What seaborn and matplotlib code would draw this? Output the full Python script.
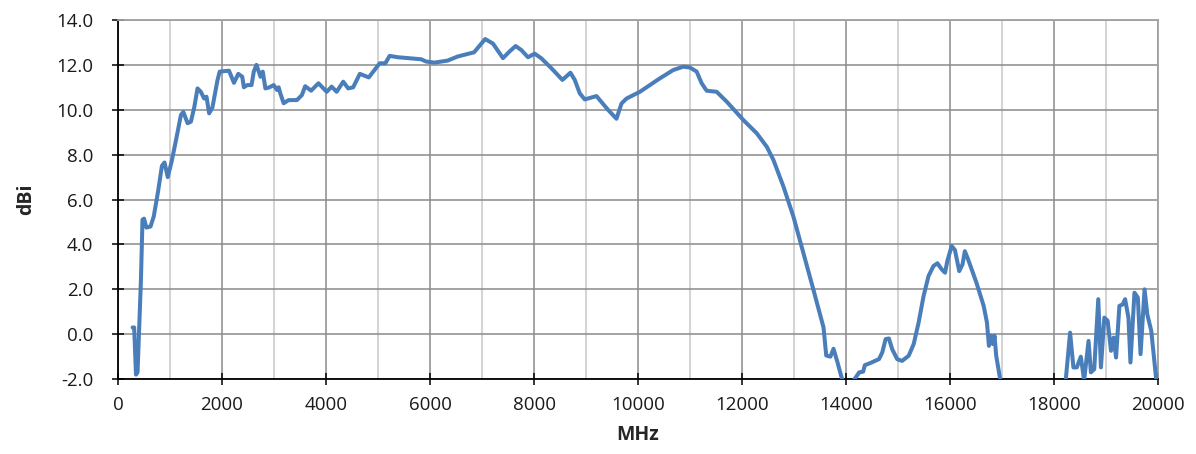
import matplotlib
matplotlib.use("Agg")
import matplotlib.pyplot as plt
from matplotlib.ticker import MultipleLocator, FormatStrFormatter
import seaborn as sns
import pandas as pd

# Measured antenna gain versus frequency
freq_mhz = [
    280, 310, 345, 375, 440, 470, 500, 545, 625, 687, 769, 844, 894, 956,
    1031, 1115, 1210, 1255, 1338, 1401, 1465, 1529, 1592, 1656, 1701, 1752,
    1815, 1911, 1955, 2134, 2229, 2312, 2389, 2420, 2484, 2567, 2611, 2662,
    2707, 2739, 2783, 2834, 2911, 2994, 3057, 3089, 3121, 3185, 3280, 3439,
    3535, 3599, 3713, 3854, 4013, 4108, 4204, 4331, 4427, 4522, 4650, 4822,
    5032, 5140, 5223, 5382, 5828, 5924, 6083, 6338, 6529, 6847, 7060, 7210,
    7403, 7531, 7647, 7756, 7884, 8013, 8141, 8334, 8546, 8700, 8784, 8880,
    8976, 9201, 9426, 9586, 9683, 9779, 10036, 10421, 10678, 10871, 10999,
    11128, 11224, 11320, 11513, 11706, 12027, 12284, 12477, 12605, 12798,
    12990, 13183, 13376, 13568, 13620, 13700, 13760, 13830, 13930, 14040,
    14150, 14254, 14330, 14362, 14463, 14635, 14698, 14762, 14825, 14889,
    14984, 15079, 15206, 15302, 15397, 15492, 15587, 15683, 15759, 15841,
    15905, 15949, 16032, 16095, 16178, 16241, 16286, 16349, 16508, 16648,
    16711, 16749, 16794, 16825, 16857, 16889, 16965, 17100, 18100, 18226,
    18310, 18374, 18439, 18516, 18580, 18665, 18710, 18774, 18852, 18903,
    18968, 19032, 19097, 19148, 19194, 19258, 19323, 19368, 19432, 19471,
    19548, 19613, 19665, 19742, 19794, 19871, 19968,
]
gain_dbi = [
    0.30, 0.30, -1.80, -1.70, 2.40, 5.10, 5.15, 4.75, 4.80, 5.25, 6.35, 7.50,
    7.65, 7.00, 7.70, 8.65, 9.77, 9.90, 9.40, 9.47, 10.10, 10.95, 10.80,
    10.50, 10.58, 9.84, 10.10, 11.30, 11.70, 11.74, 11.20, 11.60, 11.47,
    11.00, 11.10, 11.10, 11.70, 12.00, 11.70, 11.47, 11.70, 10.95, 11.00,
    11.10, 10.88, 11.00, 10.73, 10.29, 10.43, 10.43, 10.65, 11.05, 10.85,
    11.18, 10.80, 11.03, 10.80, 11.25, 10.95, 11.00, 11.60, 11.44, 12.07,
    12.07, 12.40, 12.34, 12.25, 12.15, 12.10, 12.19, 12.37, 12.56, 13.15,
    12.95, 12.30, 12.60, 12.84, 12.66, 12.34, 12.50, 12.29, 11.85, 11.33,
    11.65, 11.33, 10.73, 10.46, 10.61, 9.99, 9.60, 10.28, 10.50, 10.80,
    11.40, 11.77, 11.92, 11.88, 11.70, 11.18, 10.85, 10.80, 10.36, 9.54,
    8.95, 8.35, 7.76, 6.57, 5.23, 3.60, 1.96, 0.30, -0.95, -1.00, -0.65,
    -1.20, -2.05, -2.60, -2.05, -1.70, -1.67, -1.38, -1.29, -1.11, -0.81,
    -0.22, -0.19, -0.67, -1.11, -1.19, -0.96, -0.44, 0.52, 1.70, 2.59, 3.04,
    3.16, 2.89, 2.74, 3.26, 3.93, 3.75, 2.81, 3.11, 3.70, 3.33, 2.30, 1.26,
    0.52, -0.52, -0.07, -0.44, -0.07, -0.96, -2.00, -3.00, -3.00, -2.05,
    0.07, -1.48, -1.48, -1.00, -2.05, -0.30, -1.70, -1.56, 1.56, -1.48, 0.74,
    0.60, -0.74, -0.15, -1.04, 1.26, 1.33, 1.56, 0.74, -1.26, 1.85, 1.63,
    -0.89, 2.00, 0.89, 0.15, -2.05,
]

x_ticks = [0, 2000, 4000, 6000, 8000, 10000, 12000, 14000, 16000, 18000, 20000]
y_ticks = [-2.0, 0.0, 2.0, 4.0, 6.0, 8.0, 10.0, 12.0, 14.0]

df = pd.DataFrame({"MHz": freq_mhz, "dBi": gain_dbi})

sns.set_theme(style="white")
plt.rcParams["font.family"] = ["Open Sans", "DejaVu Sans"]

fig = plt.figure(figsize=(11.96, 4.54), dpi=100)
ax = fig.add_axes([0.0987, 0.165, 0.8695, 0.791])

sns.lineplot(data=df, x="MHz", y="dBi", sort=False, estimator=None,
             color="#4a7ebb", linewidth=2.9, ax=ax, zorder=3,
             solid_joinstyle="round", solid_capstyle="round")

ax.set_xlim(0, 20000)
ax.set_ylim(-2.0, 14.0)
ax.set_xticks(x_ticks)
ax.set_yticks(y_ticks)
ax.xaxis.set_minor_locator(MultipleLocator(1000))
ax.yaxis.set_major_formatter(FormatStrFormatter("%.1f"))

ax.grid(which="major", axis="both", color="#8a8a8a", linewidth=1.1, zorder=0)
ax.grid(which="minor", axis="x", color="#c8c8c8", linewidth=1.1, zorder=0)
ax.set_axisbelow(True)

ax.tick_params(axis="both", which="major", direction="inout", length=8,
               width=1.1, color="black", labelsize=13.5, colors="#1a1a1a")
ax.tick_params(axis="y", which="major", pad=14)
ax.tick_params(axis="x", which="major", pad=8)
ax.tick_params(axis="x", which="minor", length=0)
ax.tick_params(left=True, bottom=True)

for side in ("left", "bottom"):
    ax.spines[side].set_color("black")
    ax.spines[side].set_linewidth(1.3)
for side in ("top", "right"):
    ax.spines[side].set_color("#a0a0a0")
    ax.spines[side].set_linewidth(1.3)

ax.set_xlabel("MHz", fontsize=14, fontweight="bold", labelpad=8)
ax.set_ylabel("dBi", fontsize=14, fontweight="bold", labelpad=14)

fig.savefig("out.png", dpi=100)
